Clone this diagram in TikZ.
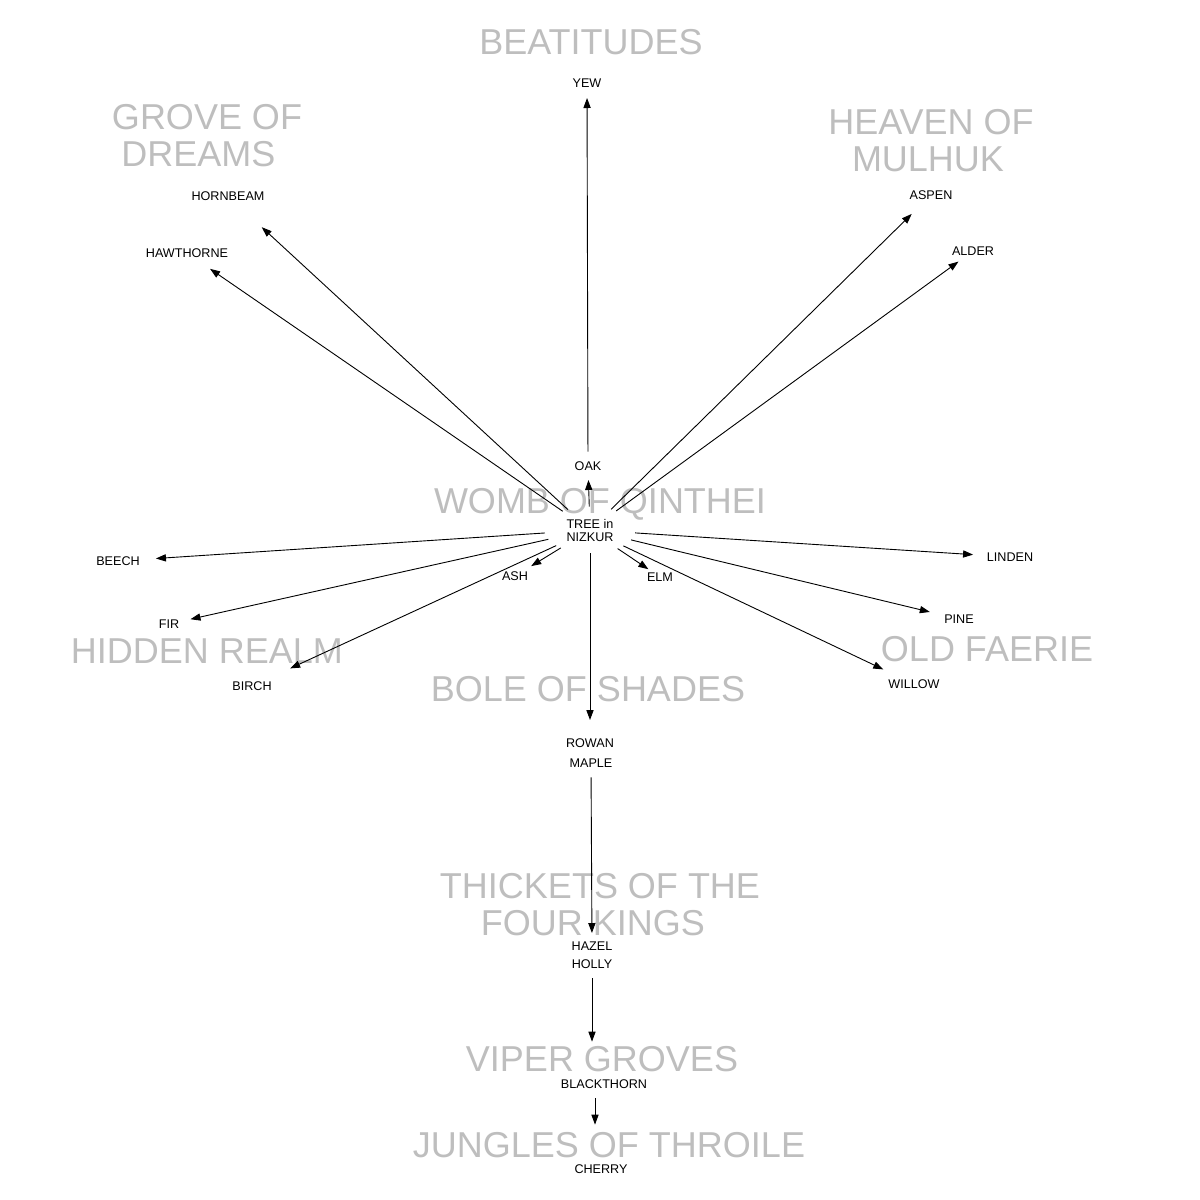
\documentclass[tikz,border=0pt]{standalone}
\usepackage{fontspec}
\setmainfont{Liberation Sans}
\usetikzlibrary{positioning,arrows.meta,shapes.geometric}
\definecolor{realmgray}{RGB}{190,190,190}
\tikzset{
  realm/.style  = {text=realmgray, align=center, inner sep=0pt, text depth=0pt,
                   font=\fontsize{18}{18.5}\selectfont},
  tree/.style   = {ellipse, align=center, inner sep=0pt, minimum height=14pt,
                   font=\fontsize{6.3}{6.5}\selectfont},
  hub/.style    = {tree, minimum width=45pt, minimum height=23pt},
  grows/.style  = {-{Triangle[length=5pt,width=3.6pt]}, line width=0.45pt}
}

\begin{document}
\begin{tikzpicture}[x=0.5pt, y=-0.5pt]
  \useasboundingbox (0,0) rectangle (1200,1200);

  % Realms (drawn first, so the edges lie on top)
  \node[realm] (beatitudes) at (591,42)   {BEATITUDES};
  \node[realm] (grove)      at (207,135)  {GROVE OF\\DREAMS\kern8.5pt};
  \node[realm] (heaven)     at (931,140)  {HEAVEN OF\\MULHUK\kern3pt};
  \node[realm] (womb)       at (600,501)  {WOMB OF QINTHEI};
  \node[realm] (hidden)     at (207,651)  {HIDDEN REALM};
  \node[realm] (faerie)     at (987,649)  {OLD FAERIE};
  \node[realm] (bole)       at (588,689)  {BOLE OF SHADES};
  \node[realm] (thickets)   at (600,904)  {THICKETS OF THE\\FOUR KINGS\kern7pt};
  \node[realm] (viper)      at (602,1059) {VIPER GROVES};
  \node[realm] (jungles)    at (609,1145) {JUNGLES OF THROILE};

  % The hub
  \node[hub] (nizkur) at (590,530) {TREE in\\NIZKUR};

  % Trees
  \node[tree] (yew)        at (587,83)   {YEW};
  \node[tree] (oak)        at (588,466)  {OAK};
  \node[tree] (hornbeam)   at (228,196)  {HORNBEAM};
  \node[tree] (hawthorne)  at (187,253)  {HAWTHORNE};
  \node[tree] (aspen)      at (931,195)  {ASPEN};
  \node[tree] (alder)      at (973,251)  {ALDER};
  \node[tree] (beech)      at (118,561)  {BEECH};
  \node[tree] (linden)     at (1010,557) {LINDEN};
  \node[tree] (ash)        at (515,576)  {ASH};
  \node[tree] (elm)        at (660,577)  {ELM};
  \node[tree] (fir)        at (169,624)  {FIR};
  \node[tree] (pine)       at (959,619)  {PINE};
  \node[tree] (birch)      at (252,686)  {BIRCH};
  \node[tree] (willow)     at (914,684)  {WILLOW};
  \node[tree] (rowan)      at (590,743)  {ROWAN};
  \node[tree] (maple)      at (591,763)  {MAPLE};
  \node[tree] (hazel)      at (592,946)  {HAZEL};
  \node[tree] (holly)      at (592,964)  {HOLLY};
  \node[tree] (blackthorn) at (604,1084) {BLACKTHORN};
  \node[tree] (cherry)     at (601,1169) {CHERRY};

  % Edges from the hub
  \draw[grows, shorten >=7pt]    (nizkur) -- (oak.center);
  \draw[grows, shorten >=23pt]   (nizkur) -- (hornbeam.center);
  \draw[grows, shorten >=14pt]   (nizkur) -- (hawthorne.center);
  \draw[grows, shorten >=13.5pt] (nizkur) -- (aspen.center);
  \draw[grows, shorten >=9pt]    (nizkur) -- (alder.center);
  \draw[grows, shorten >=19pt]   (nizkur) -- (beech.center);
  \draw[grows, shorten >=18.5pt] (nizkur) -- (linden.center);
  \draw[grows, shorten >=9.5pt]  (nizkur) -- (ash.center);
  \draw[grows, shorten >=7pt]    (nizkur) -- (elm.center);
  \draw[grows, shorten >=11pt]   (nizkur) -- (fir.center);
  \draw[grows, shorten >=15pt]   (nizkur) -- (pine.center);
  \draw[grows, shorten >=21pt]   (nizkur) -- (birch.center);
  \draw[grows, shorten >=17pt]   (nizkur) -- (willow.center);
  \draw[grows, shorten >=11.5pt] (nizkur) -- (rowan.center);

  % Chains
  \draw[grows, shorten >=7.5pt]  (oak) -- (yew.center);
  \draw[grows, shorten >=6.5pt]  (maple) -- (hazel.center);
  \draw[grows, shorten >=14pt]   (holly) -- (holly |- blackthorn.north);
  \draw[grows, shorten >=15pt]
    ([xshift=-4.5pt]blackthorn.south) -- ([xshift=-4.5pt]blackthorn.south |- cherry.north);

\end{tikzpicture}
\end{document}
